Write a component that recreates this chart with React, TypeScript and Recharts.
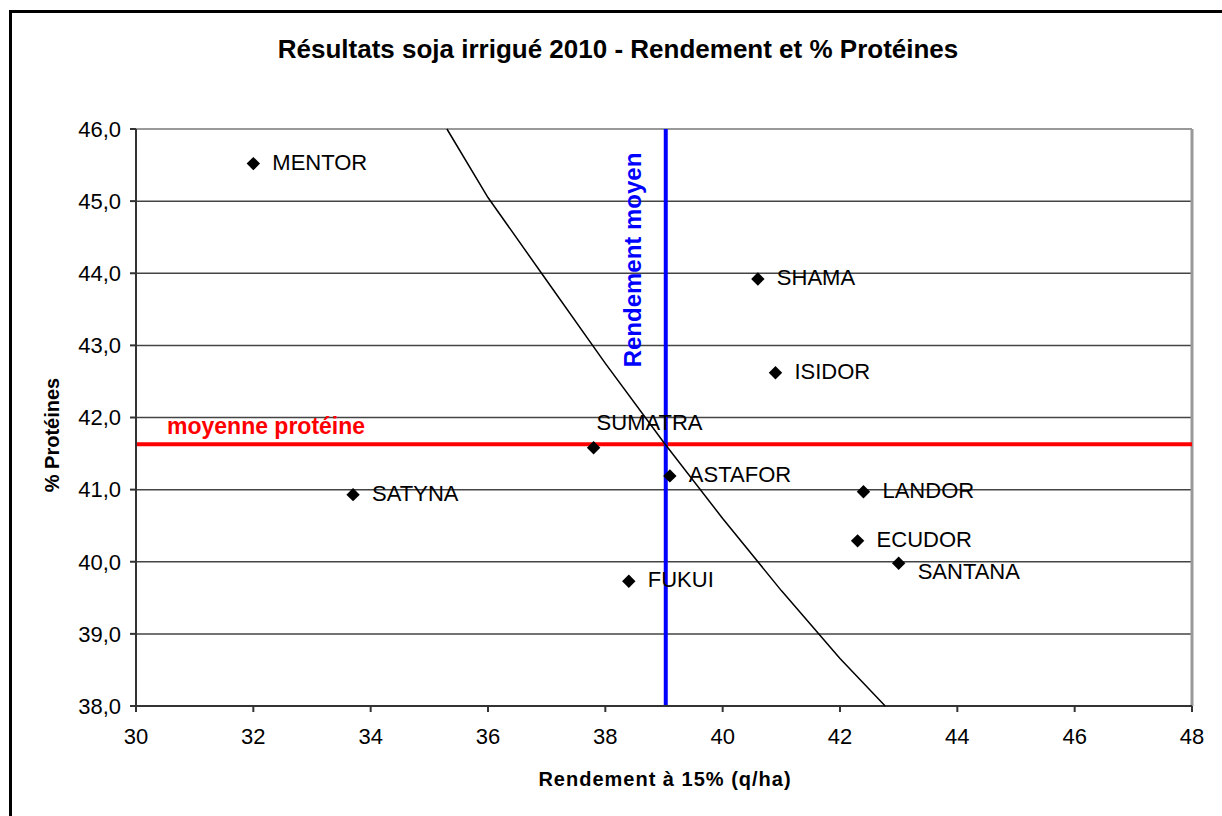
import React from 'react';
import { ScatterChart, Scatter, XAxis, YAxis, CartesianGrid, ReferenceLine } from 'recharts';

// varietes et mesures (rendement q/ha, % proteines)
const names = ['MENTOR', 'SATYNA', 'SUMATRA', 'FUKUI', 'ASTAFOR', 'SHAMA', 'ISIDOR', 'LANDOR', 'ECUDOR', 'SANTANA'];
const yields = [32.0, 33.7, 37.8, 38.4, 39.1, 40.6, 40.9, 42.4, 42.3, 43.0];
const proteins = [45.52, 40.93, 41.58, 39.73, 41.19, 43.92, 42.62, 40.97, 40.29, 39.98];

// courbe iso-rendement proteique
const curveYields = [35.3, 36, 37, 38, 39, 40, 41, 42, 42.77];
const curveProteins = [46.0, 45.05, 43.9, 42.75, 41.65, 40.6, 39.6, 38.66, 38.0];

const meanYield = 39.03;
const meanProtein = 41.63;

const xTicks = [30, 32, 34, 36, 38, 40, 42, 44, 46, 48];
const yTicks = [38, 39, 40, 41, 42, 43, 44, 45, 46];

const FONT = '"Liberation Sans", Arial, sans-serif';

// decalage des etiquettes (dx, dy) par rapport au point
const labelOffsets: Record<string, [number, number]> = {
  SUMATRA: [3, -18],
  SANTANA: [19, 16],
};

const points = names.map((name, i) => ({ name, x: yields[i], y: proteins[i] }));
const curve = curveYields.map((x, i) => ({ x, y: curveProteins[i] }));

const renderDiamond = (props: any) => {
  const { cx, cy, payload } = props;
  const off = labelOffsets[payload.name] ?? [19, 6];
  const r = 6.7;
  return (
    <g>
      <polygon points={`${cx},${cy - r} ${cx + r},${cy} ${cx},${cy + r} ${cx - r},${cy}`} fill="#000" />
      <text x={cx + off[0]} y={cy + off[1]} fontSize={22} fontFamily={FONT} fill="#000">
        {payload.name}
      </text>
    </g>
  );
};

const renderNothing = () => <g />;

const fmtY = (v: number) => v.toFixed(1).replace('.', ',');

export default function App() {
  return (
    <div style={{ position: 'absolute', left: 0, top: 0, width: 1222, height: 816, background: '#fff', overflow: 'hidden' }}>
      <ScatterChart width={1222} height={816} margin={{ top: 129, right: 30, bottom: 50, left: 36 }}>
        <CartesianGrid vertical={false} stroke="#444" strokeWidth={1.5} />
        <XAxis
          type="number"
          dataKey="x"
          domain={[30, 48]}
          ticks={xTicks}
          height={60}
          tickSize={6}
          tickMargin={16}
          stroke="#333"
          strokeWidth={2}
          tick={{ fill: '#000', fontSize: 22, fontFamily: FONT }}
        />
        <YAxis
          type="number"
          dataKey="y"
          domain={[38, 46]}
          ticks={yTicks}
          width={100}
          tickSize={6}
          tickMargin={9}
          tickFormatter={fmtY}
          stroke="#333"
          strokeWidth={2}
          tick={{ fill: '#000', fontSize: 22, fontFamily: FONT }}
        />
        <ReferenceLine y={46} stroke="#999" strokeWidth={2} />
        <ReferenceLine x={48} stroke="#999" strokeWidth={3} />
        <Scatter
          data={curve}
          line={{ stroke: '#000', strokeWidth: 1.5 }}
          shape={renderNothing}
          isAnimationActive={false}
        />
        <ReferenceLine
          y={meanProtein}
          stroke="#ff0000"
          strokeWidth={4}
          label={(p: any) => (
            <text x={p.viewBox.x + 31} y={p.viewBox.y - 10} fill="#ff0000" fontSize={23} fontWeight="bold" fontFamily={FONT}>
              moyenne protéine
            </text>
          )}
        />
        <ReferenceLine
          x={meanYield}
          stroke="#0000ff"
          strokeWidth={4}
          label={(p: any) => {
            const x = p.viewBox.x - 25;
            const y = 260;
            return (
              <text x={x} y={y} transform={`rotate(-90 ${x} ${y})`} textAnchor="middle" fill="#0000ff" fontSize={24} fontWeight="bold" fontFamily={FONT}>
                Rendement moyen
              </text>
            );
          }}
        />
        <Scatter data={points} shape={renderDiamond} isAnimationActive={false} />
      </ScatterChart>
      <svg width={1222} height={816} style={{ position: 'absolute', left: 0, top: 0, pointerEvents: 'none' }}>
        <line x1={10.5} y1={10} x2={10.5} y2={816} stroke="#000" strokeWidth={3} />
        <line x1={9} y1={11.5} x2={1222} y2={11.5} stroke="#000" strokeWidth={3} />
        <text x={618} y={58} textAnchor="middle" fontSize={26} fontWeight="bold" fontFamily={FONT} fill="#000">
          Résultats soja irrigué 2010 - Rendement et % Protéines
        </text>
        <text x={665} y={786} textAnchor="middle" fontSize={20} fontWeight="bold" fontFamily={FONT} fill="#000" letterSpacing={1}>
          Rendement à 15% (q/ha)
        </text>
        <text x={59} y={435} transform="rotate(-90 59 435)" textAnchor="middle" fontSize={20} fontWeight="bold" fontFamily={FONT} fill="#000">
          % Protéines
        </text>
      </svg>
    </div>
  );
}
